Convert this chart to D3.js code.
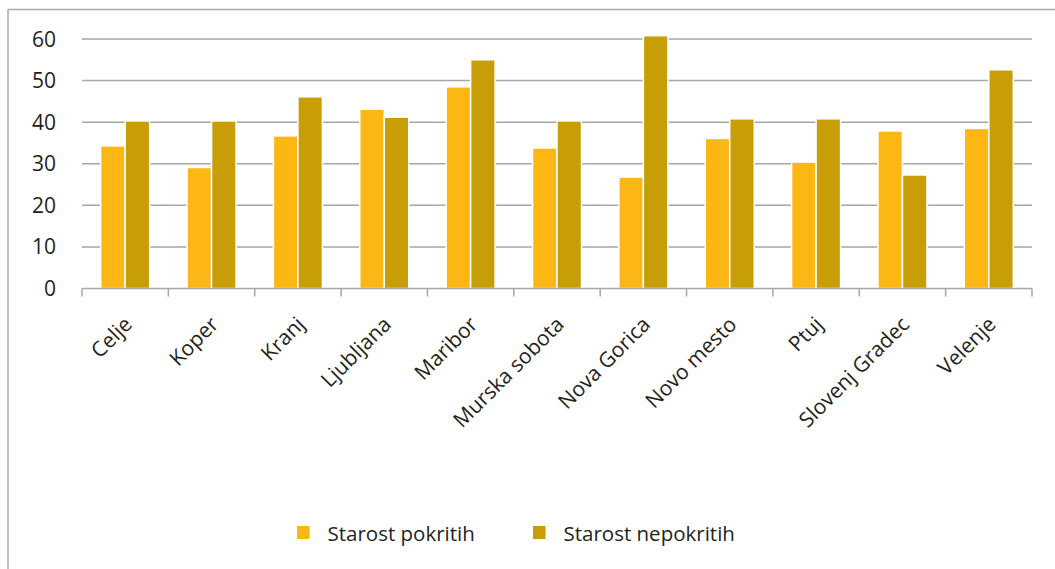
<!DOCTYPE html>
<html>
<head>
<meta charset="utf-8">
<script src="https://cdn.jsdelivr.net/npm/d3@7/dist/d3.min.js"></script>
<style>
  html, body { margin: 0; padding: 0; background: #fff; }
  svg { display: block; }
  text { font-family: "Open Sans", sans-serif; fill: #231f20; }
</style>
</head>
<body>
<svg id="chart" width="1055" height="569"></svg>
<script>
const categories = ["Celje", "Koper", "Kranj", "Ljubljana", "Maribor", "Murska sobota", "Nova Gorica", "Novo mesto", "Ptuj", "Slovenj Gradec", "Velenje"];
const seriesNames = ["Starost pokritih", "Starost nepokritih"];
const pokritih = [34.3, 29.1, 36.7, 43.1, 48.5, 33.8, 26.8, 36.1, 30.4, 37.9, 38.5];
const nepokritih = [40.3, 40.3, 46.1, 41.2, 55.0, 40.3, 60.8, 40.8, 40.8, 27.3, 52.6];
const yTicks = [0, 10, 20, 30, 40, 50, 60];
const colors = ["#FDB714", "#C79E06"];

const svg = d3.select("#chart");

// frame lines (top and left)
svg.append("line").attr("x1", 8).attr("x2", 1055).attr("y1", 9.5).attr("y2", 9.5)
  .attr("stroke", "#ababab").attr("stroke-width", 1.5);
svg.append("line").attr("x1", 8).attr("x2", 8).attr("y1", 9.5).attr("y2", 569)
  .attr("stroke", "#ababab").attr("stroke-width", 1.5);

const plotL = 82, plotR = 1032, plotT = 39, plotB = 288.5;
const x0 = d3.scaleBand().domain(categories).range([plotL, plotR]).paddingInner(0).paddingOuter(0);
const groupW = 49;
const x1 = d3.scaleBand().domain(seriesNames).range([0, groupW]);
const y = d3.scaleLinear().domain([0, 60]).range([plotB, plotT]);

// gridlines
svg.append("g").selectAll("line").data(yTicks.filter(d => d > 0)).join("line")
  .attr("x1", plotL).attr("x2", plotR)
  .attr("y1", d => y(d)).attr("y2", d => y(d))
  .attr("stroke", "#a6a6a6").attr("stroke-width", 1.5);

// y labels
svg.append("g").selectAll("text").data(yTicks).join("text")
  .attr("x", 56).attr("y", d => y(d)).attr("dy", "0.36em")
  .attr("text-anchor", "end").attr("font-size", 21)
  .text(d => d);

// bars
const data = categories.map((c, i) => ({ c, vals: [pokritih[i], nepokritih[i]] }));
const groups = svg.append("g").selectAll("g").data(data).join("g")
  .attr("transform", d => `translate(${x0(d.c) + (x0.bandwidth() - groupW) / 2},0)`);
groups.selectAll("rect").data(d => d.vals.map((v, j) => ({ v, s: seriesNames[j], j }))).join("rect")
  .attr("x", d => x1(d.s))
  .attr("width", x1.bandwidth())
  .attr("y", d => y(d.v))
  .attr("height", d => y(0) - y(d.v))
  .attr("fill", d => colors[d.j])
  .attr("stroke", "#fff").attr("stroke-width", 1.5);

// x axis
const xAxis = svg.append("g");
xAxis.append("line").attr("x1", plotL).attr("x2", plotR).attr("y1", plotB).attr("y2", plotB)
  .attr("stroke", "#a6a6a6").attr("stroke-width", 1.5);
const tickPos = categories.map(c => x0(c)).concat([plotR]);
xAxis.selectAll("line.tick").data(tickPos).join("line").attr("class", "tick")
  .attr("x1", d => d).attr("x2", d => d).attr("y1", plotB).attr("y2", plotB + 8)
  .attr("stroke", "#a6a6a6").attr("stroke-width", 1.5);
xAxis.selectAll("text").data(categories).join("text")
  .attr("transform", d => `translate(${x0(d) + x0.bandwidth() / 2 + 3},${plotB + 32}) rotate(-45)`)
  .attr("text-anchor", "end").attr("font-size", 21).attr("dy", "0.35em")
  .text(d => d);

// legend
const legendX = [297, 533];
const lg = svg.append("g").selectAll("g").data(seriesNames).join("g")
  .attr("transform", (d, i) => `translate(${legendX[i]},526)`);
lg.append("rect").attr("width", 12.6).attr("height", 13).attr("fill", (d, i) => colors[i]);
lg.append("text").attr("x", 30.5).attr("y", 15).attr("font-size", 20.5).text(d => d);
</script>
</body>
</html>
